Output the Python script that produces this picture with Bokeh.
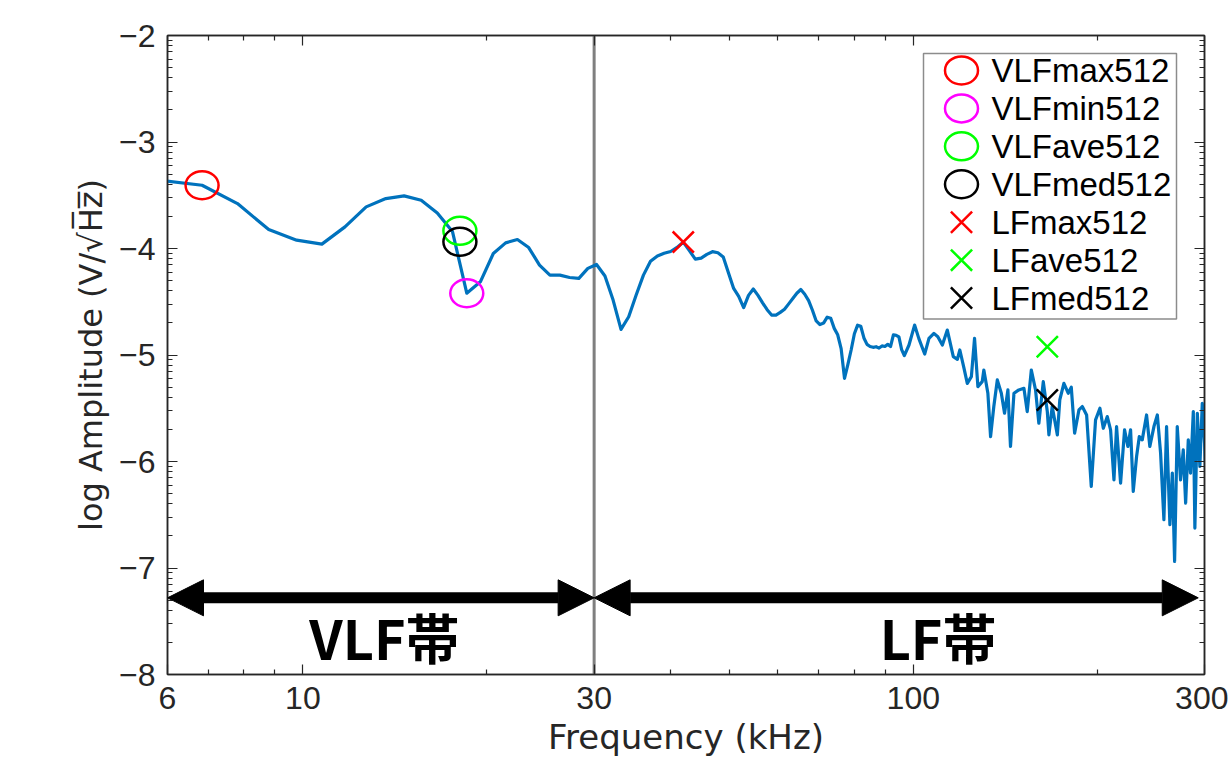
import numpy as np
from bokeh.plotting import figure
from bokeh.models import (ColumnDataSource, FixedTicker, LogAxis, LinearAxis, Span, Arrow,
                          NormalHead, Range1d, LinearScale, CustomLabelingPolicy)
from bokeh.core.properties import value
from bokeh.embed import file_html
from bokeh.resources import INLINE

# ---- spectrum: frequency (kHz) and log10 amplitude (V/sqrt(Hz)) ----
freq_khz = [
    5.859, 6.836, 7.813, 8.789, 9.766, 10.742, 11.719, 12.695, 13.672, 14.648,
    15.625, 16.602, 17.578, 18.555, 19.531, 20.508, 21.484, 22.461, 23.438, 24.414,
    25.391, 26.367, 27.344, 28.320, 29.297, 30.273, 31.250, 32.227, 33.203, 34.180,
    35.156, 36.133, 37.109, 38.086, 39.063, 40.039, 41.016, 41.992, 42.969, 43.945,
    44.922, 45.898, 46.875, 47.852, 48.828, 49.805, 50.781, 51.758, 52.734, 53.711,
    54.688, 55.664, 56.641, 57.617, 58.594, 59.570, 60.547, 61.523, 62.500, 63.477,
    64.453, 65.430, 66.406, 67.383, 68.359, 69.336, 70.313, 71.289, 72.266, 73.242,
    74.219, 75.195, 76.172, 77.148, 78.125, 79.102, 80.078, 81.055, 82.031, 83.008,
    83.984, 84.961, 85.938, 86.914, 87.891, 88.867, 89.844, 90.820, 91.797, 92.773,
    93.750, 94.727, 95.703, 96.680,
    98.4, 100.5, 102.1, 104.4, 106.1, 108.1, 109.7, 111.6, 113.7, 116.3,
    118.1, 119.2, 121.1, 122.6, 124.5, 126.0, 127.6, 129.7, 130.5, 132.5,
    133.85, 135.5, 137.3, 139.4, 141.1, 142.9, 144.3, 146.2, 148.9, 151.8,
    153.7, 156.1, 158.6, 160.6, 163.3, 165.8, 166.8, 168.9, 172.2, 173.8,
    176.5, 179.4, 181.5, 183.8, 186.8, 189.2, 192.3, 195.7, 198.9, 202.2,
    204.8, 207.9, 210.5, 213.2, 215.3, 218.6, 221.9, 224.7, 227.0, 229.3,
    232.2, 234.6, 237.2, 241.1, 244.1, 247.9, 251.1, 254.2, 257.4, 260.0,
    263.3, 265.7, 268.0, 270.7, 274.1, 276.9, 279.4, 282.2, 284.6, 287.6,
    289.3, 292.0, 294.8, 297.5, 300.1, 302.4,
]
log_amp = [
    -3.36, -3.406, -3.578, -3.822, -3.922, -3.959, -3.797, -3.609, -3.531, -3.506,
    -3.547, -3.666, -3.84, -4.42, -4.313, -4.047, -3.947, -3.916, -3.991, -4.156,
    -4.25, -4.25, -4.272, -4.281, -4.187, -4.15, -4.258, -4.484, -4.759, -4.641,
    -4.437, -4.25, -4.12, -4.07, -4.045, -4.028, -3.99, -3.94, -4.02, -4.10,
    -4.09, -4.055, -4.03, -4.04, -4.08, -4.23, -4.375, -4.45, -4.555, -4.44,
    -4.38, -4.44, -4.51, -4.575, -4.625, -4.625, -4.60, -4.57, -4.52, -4.47,
    -4.42, -4.385, -4.43, -4.49, -4.58, -4.68, -4.715, -4.70, -4.645, -4.655,
    -4.75, -4.81, -4.94, -5.22, -5.09, -4.953, -4.80, -4.72, -4.73, -4.84,
    -4.90, -4.92, -4.928, -4.922, -4.935, -4.915, -4.92, -4.90, -4.92, -4.81,
    -4.815, -4.83, -4.95, -5.005,
    -4.906, -4.719, -4.844, -4.991, -4.844, -4.797, -4.828, -4.906, -4.766, -5.016,
    -5.041, -4.953, -5.125, -5.266, -5.203, -4.844, -5.297, -5.25, -5.141, -5.359,
    -5.766, -5.484, -5.234, -5.359, -5.547, -5.328, -5.859, -5.359, -5.328, -5.313,
    -5.531, -5.141, -5.328, -5.641, -5.25, -5.531, -5.75, -5.484, -5.75, -5.422,
    -5.266, -5.359, -5.303, -5.734, -5.516, -5.484, -5.563, -6.234, -5.609, -5.5,
    -5.688, -5.578, -5.703, -6.172, -5.672, -6.203, -5.703, -5.859, -5.703, -6.281,
    -5.953, -5.766, -5.797, -5.563, -5.859, -5.672, -5.563, -5.922, -6.547, -5.672,
    -6.594, -6.109, -6.938, -5.672, -6.172, -5.891, -6.391, -5.797, -6.109, -5.531,
    -6.625, -5.547, -6.047, -5.453, -5.828, -6.375,
]

# ---- axes ----
x_ticks = [6, 10, 30, 100, 300]
x_minor = [7, 8, 9, 20, 40, 50, 60, 70, 80, 90, 200]
y_ticks = [-8, -7, -6, -5, -4, -3, -2]

# ---- statistic markers ----
vlf_names = ["VLFmax512", "VLFmin512", "VLFave512", "VLFmed512"]
vlf_freq = [6.836, 18.555, 18.08, 18.08]
vlf_amp = [-3.406, -4.42, -3.834, -3.937]
vlf_colors = ["#FF0000", "#FF00FF", "#00FF00", "#000000"]

lf_names = ["LFmax512", "LFave512", "LFmed512"]
lf_freq = [41.992, 165.8, 165.8]
lf_amp = [-3.94, -4.922, -5.422]
lf_colors = ["#FF0000", "#00FF00", "#000000"]

# ---- frequency bands ----
band_edges = [6, 30, 293]
band_names = ["VLF帯", "LF帯"]
band_label_x = [13.6, 109.8]
band_label_y = [-7.64, -7.64]
band_arrow_y = -7.28

W, H = 1228, 759
LEFT, RIGHT, TOP, BOTTOM = 167, 24, 35, 84
FRAME_W, FRAME_H = W - LEFT - RIGHT, H - TOP - BOTTOM
AX = "#262626"
BLUE = "#0072BD"

p = figure(width=W, height=H, x_axis_type="log",
           x_range=Range1d(x_ticks[0], x_ticks[-1]), y_range=Range1d(y_ticks[0], y_ticks[-1]),
           output_backend="svg", toolbar_location=None,
           min_border_left=LEFT, min_border_right=RIGHT,
           min_border_top=TOP, min_border_bottom=BOTTOM)
p.grid.visible = False
p.background_fill_color = "white"
p.border_fill_color = "white"
p.outline_line_color = AX
p.outline_line_width = 1.5

x_ticker = FixedTicker(ticks=x_ticks, minor_ticks=x_minor)
y_minor = [t + float(np.log10(m)) for t in y_ticks[:-1] for m in range(2, 10)]
y_ticker = FixedTicker(ticks=y_ticks, minor_ticks=y_minor)


def style_axis(ax, labels):
    ax.axis_line_color = AX
    ax.axis_line_width = 1.5
    ax.major_tick_line_color = AX
    ax.minor_tick_line_color = AX
    ax.major_tick_line_width = 1.2
    ax.minor_tick_line_width = 1.2
    ax.major_tick_in = 10
    ax.major_tick_out = 0
    ax.minor_tick_in = 5
    ax.minor_tick_out = 0
    if labels:
        ax.major_label_text_font = "Liberation Sans"
        ax.major_label_text_font_size = "32px"
        ax.major_label_text_color = AX
        ax.axis_label_text_font = "DejaVu Sans"
        ax.axis_label_text_font_style = "normal"
        ax.axis_label_text_color = AX
    else:
        # tick marks only: the box edges carry no labels
        ax.major_label_policy = CustomLabelingPolicy(code="return []")
        ax.major_label_text_font_size = "2px"
        ax.major_label_standoff = 0


xa = p.xaxis[0]
xa.ticker = x_ticker
xa.major_label_overrides = {t: str(t) for t in x_ticks}
style_axis(xa, True)
xa.major_label_standoff = 12
xa.axis_label = "Frequency (kHz)"
xa.axis_label_text_font_size = "34px"
xa.axis_label_standoff = 5

ya = p.yaxis[0]
ya.ticker = y_ticker
ya.major_label_overrides = {t: "\u2212" + str(-t) for t in y_ticks}
style_axis(ya, True)
ya.major_label_standoff = 12
ya.axis_label = "log Amplitude (V/\u221aH\u0305z\u0305)"
ya.axis_label_text_font_size = "32px"
ya.axis_label_standoff = 6

top_axis = LogAxis(ticker=x_ticker)
style_axis(top_axis, False)
p.add_layout(top_axis, "above")
right_axis = LinearAxis(ticker=y_ticker)
style_axis(right_axis, False)
p.add_layout(right_axis, "right")

# band boundary at 30 kHz
p.add_layout(Span(location=band_edges[1], dimension="height", line_color="#7f7f7f",
                  line_width=3, level="underlay"))

# spectrum
p.line(freq_khz, log_amp, line_color=BLUE, line_width=3.2, line_join="round")

# statistic markers
vlf_src = ColumnDataSource(dict(x=vlf_freq, y=vlf_amp, c=vlf_colors))
p.ellipse(x="x", y="y", width=33, height=28, width_units="screen", height_units="screen",
          fill_color=None, line_color="c", line_width=2.5, source=vlf_src)
lf_src = ColumnDataSource(dict(x=lf_freq, y=lf_amp, c=lf_colors))
p.scatter(x="x", y="y", marker="x", size=30, line_color="c", line_width=2.5, source=lf_src)

# band arrows
for a, b in zip(band_edges[:-1], band_edges[1:]):
    p.add_layout(Arrow(start=NormalHead(size=36, fill_color="black", line_color="black", line_width=1),
                       end=NormalHead(size=36, fill_color="black", line_color="black", line_width=1),
                       x_start=a, y_start=band_arrow_y, x_end=b, y_end=band_arrow_y,
                       line_color="black", line_width=11))

band_src = ColumnDataSource(dict(x=band_label_x, y=band_label_y, t=band_names))
p.text(x="x", y="y", text="t", source=band_src, text_font=value("Noto Sans CJK JP"),
       text_font_style="bold", text_font_size="54px", text_color="black",
       text_align="center", text_baseline="alphabetic")

# legend, laid out in frame pixel coordinates
p.extra_x_ranges = {"box": Range1d(0, FRAME_W)}
p.extra_x_scales = {"box": LinearScale()}
p.extra_y_ranges = {"box": Range1d(FRAME_H, 0)}
p.extra_y_scales = {"box": LinearScale()}

leg_left, leg_right, leg_top, leg_bottom = 756, 1009, 18, 284
sym_x, txt_x, row0, row_dy = 794, 824, 35, 38
p.quad(left=[leg_left], right=[leg_right], top=[leg_top], bottom=[leg_bottom],
       fill_color="white", line_color="#8c8c8c", line_width=1.5,
       x_range_name="box", y_range_name="box")

leg_names = vlf_names + lf_names
leg_colors = vlf_colors + lf_colors
rows_y = [row0 + i * row_dy for i in range(len(leg_names))]
n_c = len(vlf_names)
p.ellipse(x=[sym_x] * n_c, y=rows_y[:n_c], width=33, height=28,
          width_units="screen", height_units="screen", fill_color=None,
          line_color=vlf_colors, line_width=2.5, x_range_name="box", y_range_name="box")
p.scatter(x=[sym_x] * len(lf_names), y=rows_y[n_c:], marker="x", size=30,
          line_color=lf_colors, line_width=2.5, x_range_name="box", y_range_name="box")
p.text(x=[txt_x] * len(leg_names), y=rows_y, text=leg_names,
       text_font=value("Liberation Sans"), text_font_size="33px", text_color="black",
       text_align="left", text_baseline="middle", x_range_name="box", y_range_name="box")

open("out.html", "w").write(file_html(p, INLINE))
